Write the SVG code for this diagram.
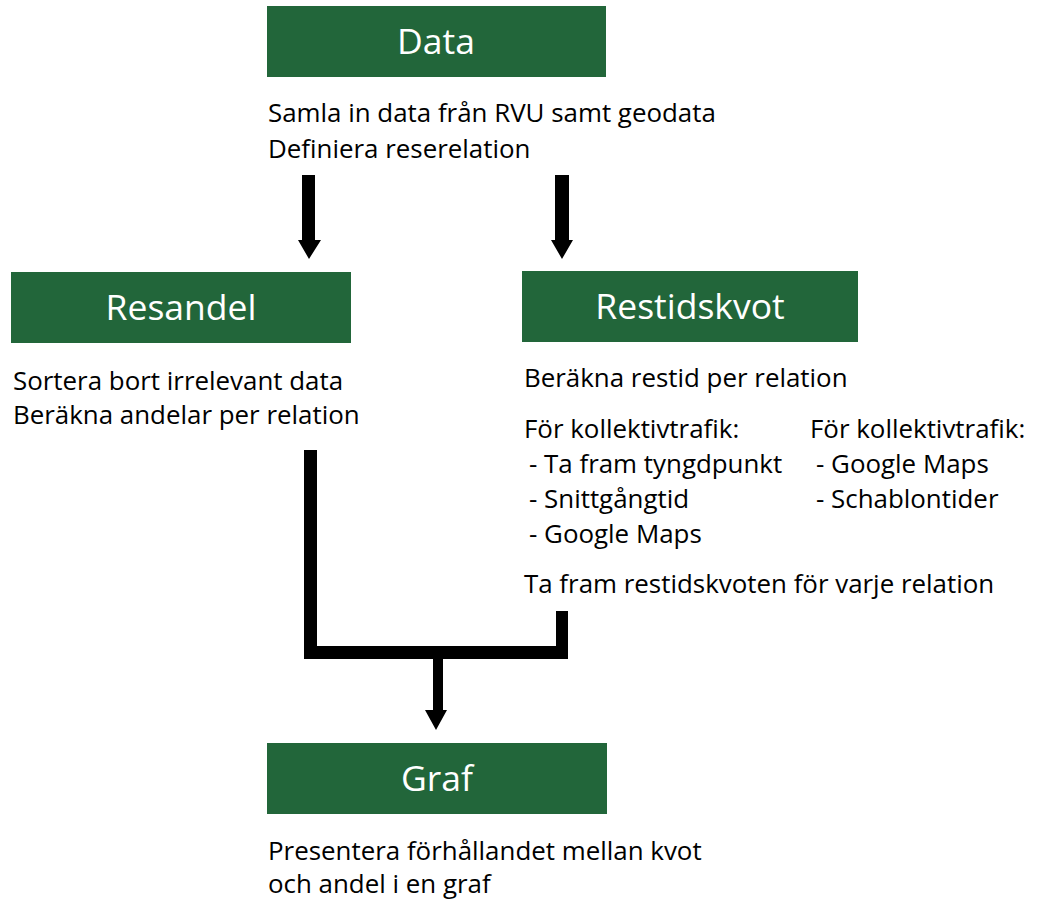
<svg xmlns="http://www.w3.org/2000/svg" width="1038" height="900" viewBox="0 0 1038 900">
<defs>
<style>
.box{fill:#22663A;}
.hd{font-family:"Open Sans","Liberation Sans",sans-serif;font-size:35.5px;fill:#ffffff;text-anchor:middle;}
.tx{font-family:"Open Sans","Liberation Sans",sans-serif;font-size:25.9px;fill:#000000;}
.ln{fill:#000000;}
</style>
</defs>
<rect width="1038" height="900" fill="#ffffff"/>
<g id="connectors">
<path class="ln" d="M302,175 H315 V240 H321 L309,259 L298,240 H302 Z"/>
<path class="ln" d="M555,175 H569 V240 H573 L562,259 L551,240 H555 Z"/>
<path class="ln" d="M304,450 H317 V646 H556 V611 H568 V659 H443 V710 H447 L436,730 L425,710 H433 V659 H304 Z"/>
</g>
<g id="node-data">
<rect class="box" x="267" y="6" width="339" height="71"/>
<text class="hd" x="436" y="54">Data</text>
<text class="tx" x="268" y="122">Samla in data från RVU samt geodata</text>
<text class="tx" x="268" y="158">Definiera reserelation</text>
</g>
<g id="node-resandel">
<rect class="box" x="11" y="272" width="340" height="71"/>
<text class="hd" x="181" y="320">Resandel</text>
<text class="tx" x="13" y="390">Sortera bort irrelevant data</text>
<text class="tx" x="13" y="424">Beräkna andelar per relation</text>
</g>
<g id="node-restidskvot">
<rect class="box" x="522" y="271" width="336" height="71"/>
<text class="hd" x="690" y="319">Restidskvot</text>
<text class="tx" x="524" y="387">Beräkna restid per relation</text>
<text class="tx" x="524" y="438">För kollektivtrafik:</text>
<text class="tx" x="529" y="473">- Ta fram tyngdpunkt</text>
<text class="tx" x="529" y="508">- Snittgångtid</text>
<text class="tx" x="529" y="543">- Google Maps</text>
<text class="tx" x="810" y="438">För kollektivtrafik:</text>
<text class="tx" x="816" y="473">- Google Maps</text>
<text class="tx" x="816" y="508">- Schablontider</text>
<text class="tx" x="524" y="593">Ta fram restidskvoten för varje relation</text>
</g>
<g id="node-graf">
<rect class="box" x="267" y="743" width="340" height="71"/>
<text class="hd" x="437" y="791">Graf</text>
<text class="tx" x="268" y="860">Presentera förhållandet mellan kvot</text>
<text class="tx" x="268" y="893">och andel i en graf</text>
</g>
</svg>
